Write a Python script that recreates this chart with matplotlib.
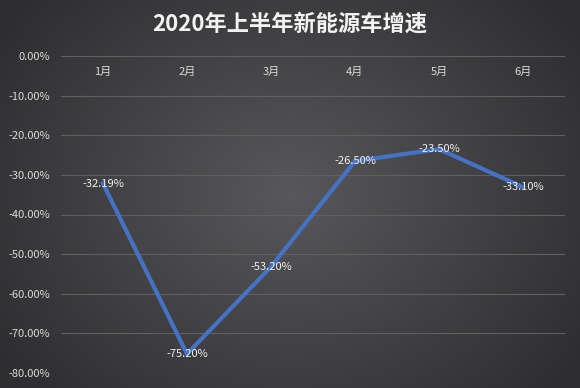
import numpy as np
import matplotlib
matplotlib.use("Agg")
import matplotlib.pyplot as plt

plt.rcParams['font.family'] = ['Noto Sans CJK SC', 'DejaVu Sans']

title = "2020年上半年新能源车增速"
months = ["1月", "2月", "3月", "4月", "5月", "6月"]
growth = [-32.19, -75.20, -53.20, -26.50, -23.50, -33.10]
yticks = [0, -10, -20, -30, -40, -50, -60, -70, -80]

W, H = 580, 388
fig = plt.figure(figsize=(W / 100, H / 100), dpi=100)

# background radial gradient
bg = fig.add_axes([0, 0, 1, 1])
yy, xx = np.mgrid[0:H, 0:W]
cx, cy = W * 0.5, H * 0.5
r = np.sqrt(((xx - cx) / (W * 0.6)) ** 2 + ((yy - cy) / (H * 0.75)) ** 2)
r = np.clip(r, 0, 1)
inner = np.array([0x58, 0x58, 0x5a]) / 255
outer = np.array([0x2e, 0x2e, 0x30]) / 255
img = inner[None, None, :] * (1 - r[..., None]) + outer[None, None, :] * r[..., None]
bg.imshow(img, aspect='auto', extent=[0, 1, 0, 1], origin='upper')
bg.axis('off')

ax = fig.add_axes([61 / W, 1 - 373 / H, 504 / W, (373 - 56) / H])
ax.patch.set_alpha(0)
x = np.arange(len(months))
ax.set_xlim(-0.5, len(months) - 0.5)
ax.set_ylim(-80, 0)
ax.set_yticks(yticks)
ax.set_yticklabels([f"{v:.2f}%" for v in yticks], color='#d9d9d9', fontsize=8)
ax.set_xticks([])
ax.tick_params(axis='y', length=0, pad=8)
for s in ax.spines.values():
    s.set_visible(False)
ax.grid(axis='y', color='#606060', linewidth=0.8)
ax.set_axisbelow(True)

for xi, m in zip(x, months):
    ax.text(xi, -4.1, m, ha='center', va='center', color='#d9d9d9', fontsize=8)

ax.plot(x, growth, color='#4472C4', linewidth=3.0, solid_joinstyle='miter', zorder=3)
for xi, v in zip(x, growth):
    ax.text(xi, v, f"{v:.2f}%", ha='center', va='center', color='#f0f0f0', fontsize=8, zorder=4)

fig.text(0.5, 1 - 24 / H, title, ha='center', va='center', color='#f2f2f2',
         fontsize=16, fontweight='bold')

fig.savefig("out.png", dpi=100)
